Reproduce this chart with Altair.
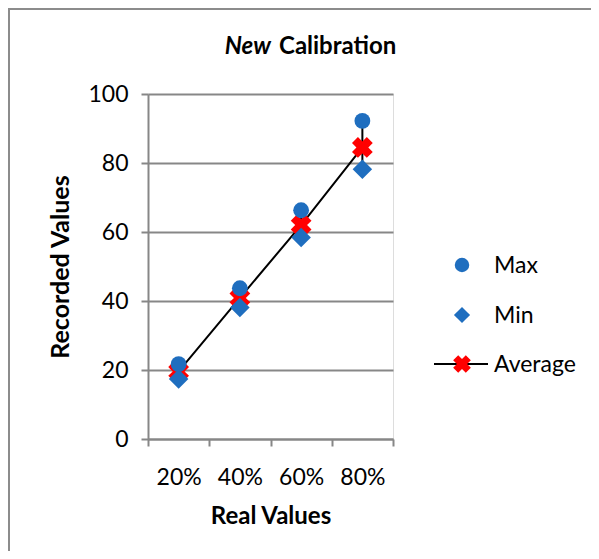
import altair as alt
import pandas as pd

categories = ["20%", "40%", "60%", "80%"]
max_vals = [21.7, 43.7, 66.3, 92.2]
min_vals = [17.4, 38.1, 58.4, 78.2]
avg_vals = [19.6, 40.9, 62.0, 84.5]

df = pd.DataFrame({"real": categories, "Max": max_vals, "Min": min_vals, "Average": avg_vals})

FONT = "Lato"
GRAY = "#878787"
BLUE = "#1F6EBF"
RED = "#FF0000"

W, H = 245, 345

x = alt.X("real:N", sort=categories, title="Real Values",
          scale=alt.Scale(paddingInner=0, paddingOuter=0),
          axis=alt.Axis(labelAngle=0, tickBand="extent", grid=False, domainColor=GRAY, domainWidth=2,
                        tickColor=GRAY, tickWidth=2, tickSize=7, labelPadding=20, labelFontSize=23,
                        labelFont=FONT, labelColor="#000", titleFont=FONT, titleFontSize=24,
                        titleFontWeight="bold", titlePadding=15, titleColor="#000"))
yscale = alt.Scale(domain=[0, 100])
yaxis = alt.Axis(values=[0, 20, 40, 60, 80, 100], grid=True, gridColor=GRAY, gridWidth=2,
                 domainColor=GRAY, domainWidth=2, tickColor=GRAY, tickWidth=2, tickSize=7,
                 labelPadding=13, labelFontSize=23, labelFont=FONT, labelColor="#000",
                 titleFont=FONT, titleFontSize=25, titleFontWeight="bold", titleColor="#000",
                 titlePadding=14)

base = alt.Chart(df)
one = pd.DataFrame({"a": [0]})

border_top = alt.Chart(one).mark_rule(color="#8c8c8c", strokeWidth=2).encode(
    x=alt.value(-139), x2=alt.value(W + 198), y=alt.value(-85))
border_left = alt.Chart(one).mark_rule(color="#8c8c8c", strokeWidth=2).encode(
    x=alt.value(-139), y=alt.value(-86), y2=alt.value(H + 112))

hilo = base.mark_rule(color="black", strokeWidth=2).encode(
    x=x, y=alt.Y("Min:Q", scale=yscale, axis=yaxis, title="Recorded Values"), y2="Max:Q")
avg_line = base.mark_line(color="black", strokeWidth=2).encode(x=x, y=alt.Y("Average:Q", scale=yscale))
avg_pts = base.mark_point(shape="cross", angle=45, filled=True, color=RED, size=440, opacity=1).encode(
    x=x, y=alt.Y("Average:Q", scale=yscale))
min_pts = base.mark_point(shape="diamond", filled=True, color=BLUE, size=380, opacity=1).encode(
    x=x, y=alt.Y("Min:Q", scale=yscale))
max_pts = base.mark_point(shape="circle", filled=True, color=BLUE, size=250, opacity=1).encode(
    x=x, y=alt.Y("Max:Q", scale=yscale))

title_new = alt.Chart(one).mark_text(text="New", font=FONT, fontSize=24, fontWeight="bold",
                                     fontStyle="italic", align="right", baseline="middle", color="#000").encode(
    x=alt.value(123), y=alt.value(-47))
title_cal = alt.Chart(one).mark_text(text="Calibration", font=FONT, fontSize=24, fontWeight="bold",
                                     align="left", baseline="middle", color="#000").encode(
    x=alt.value(131), y=alt.value(-47))

leg_max = alt.Chart(one).mark_point(shape="circle", filled=True, color=BLUE, size=210, opacity=1).encode(
    x=alt.value(314), y=alt.value(171))
leg_min = alt.Chart(one).mark_point(shape="diamond", filled=True, color=BLUE, size=260, opacity=1).encode(
    x=alt.value(314), y=alt.value(221))
leg_line = alt.Chart(one).mark_rule(color="black", strokeWidth=2).encode(
    x=alt.value(286), x2=alt.value(340), y=alt.value(270))
leg_avg = alt.Chart(one).mark_point(shape="cross", angle=45, filled=True, color=RED, size=320, opacity=1).encode(
    x=alt.value(314), y=alt.value(270))
leg_labels = [
    alt.Chart(one).mark_text(text=t, font=FONT, fontSize=23, align="left", baseline="middle", color="#000").encode(
        x=alt.value(346), y=alt.value(yy))
    for t, yy in zip(["Max", "Min", "Average"], [172, 222, 271])
]

chart = alt.layer(
    border_top, border_left, hilo, avg_line, avg_pts, min_pts, max_pts, title_new, title_cal,
    leg_line, leg_avg, leg_max, leg_min, *leg_labels
).properties(
    width=W, height=H,
    autosize=alt.AutoSizeParams(type="none"),
    padding={"left": 140, "top": 86, "right": 198, "bottom": 112},
).configure_view(stroke=None).configure(background="white")

chart.save("out.html", embed_options={"renderer": "svg", "actions": False})
